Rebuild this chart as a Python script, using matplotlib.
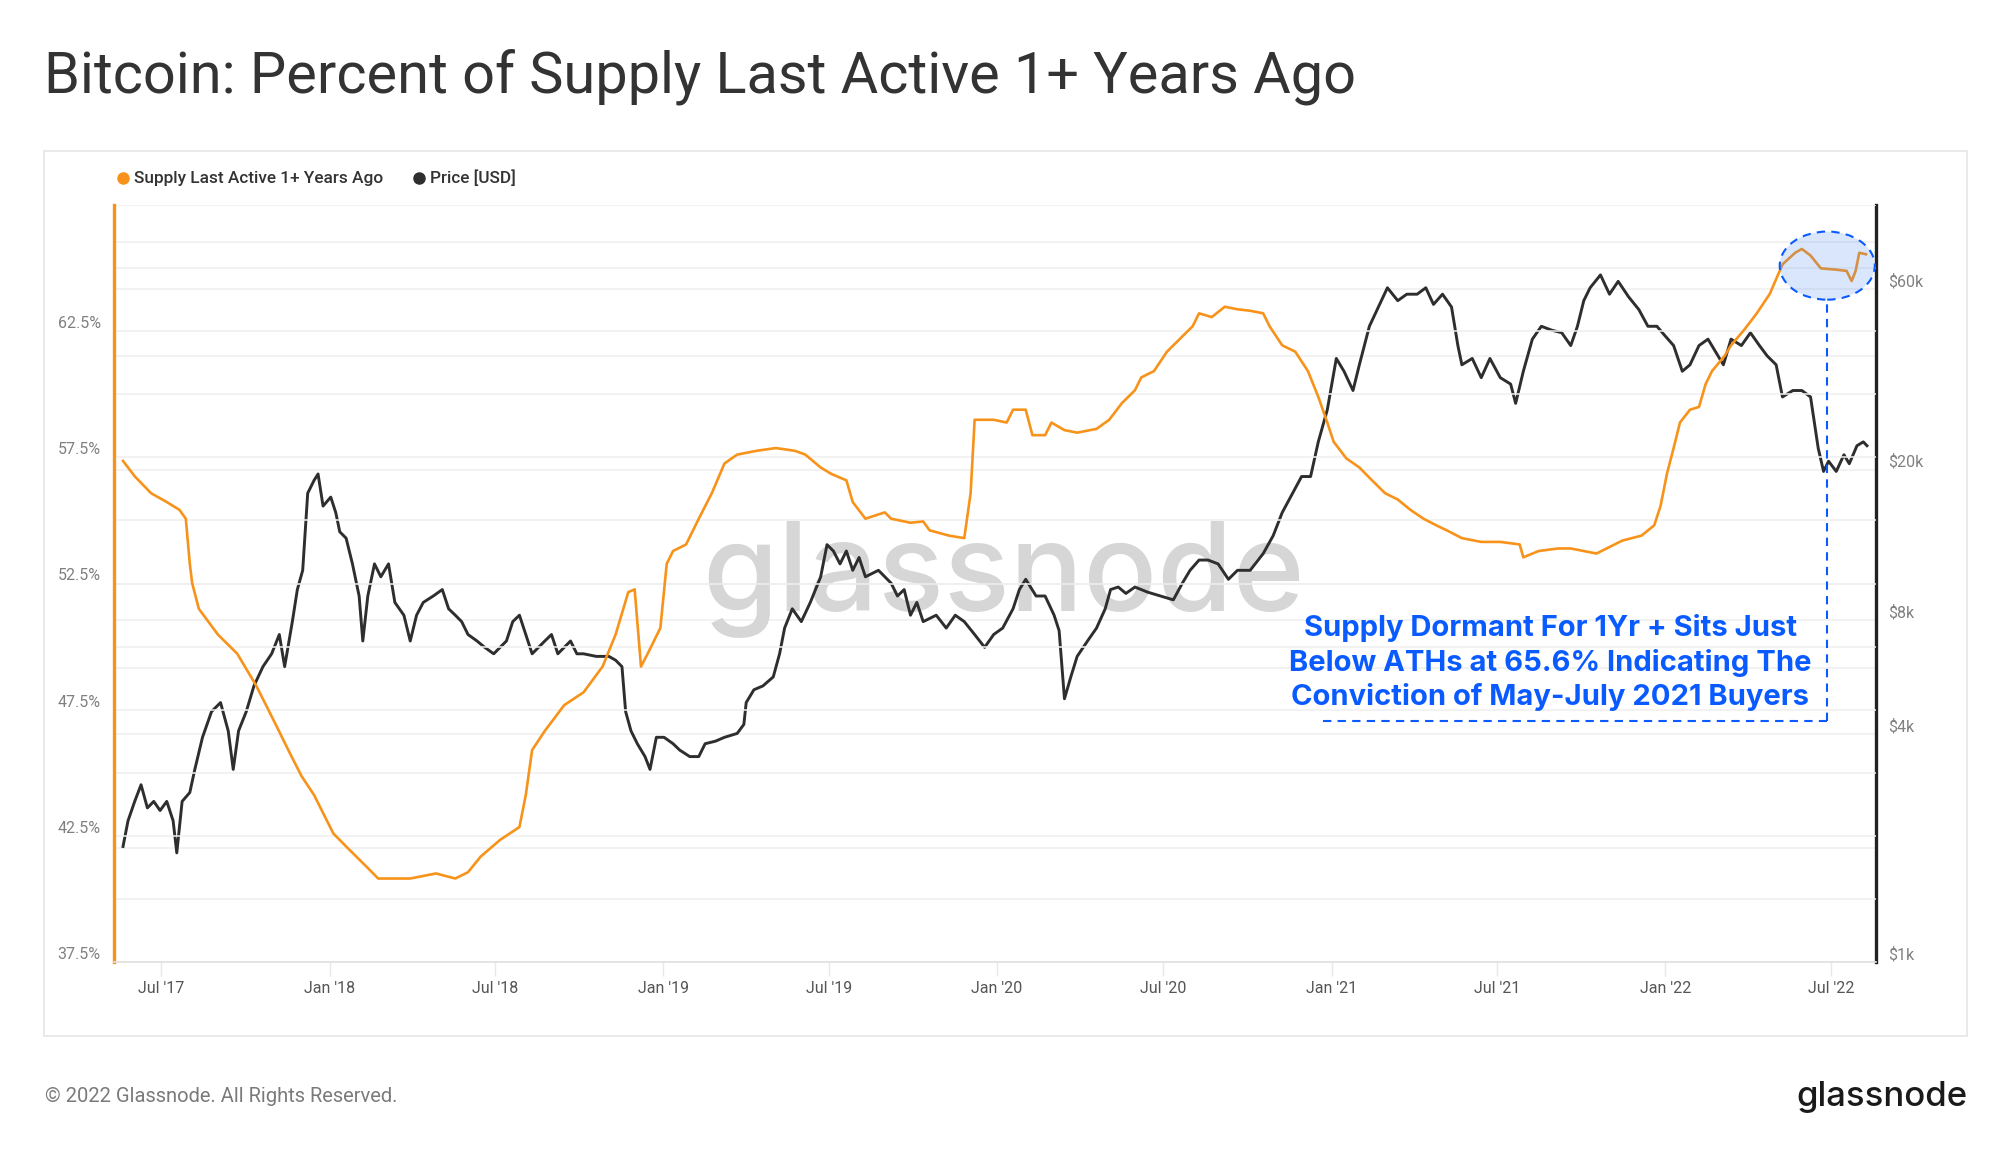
import numpy as np
import pandas as pd
import matplotlib
matplotlib.use("Agg")
import matplotlib.pyplot as plt
import matplotlib.dates as mdates
import matplotlib.transforms as mtransforms
from matplotlib.patches import Ellipse, Rectangle
from matplotlib.lines import Line2D
from matplotlib.ticker import FixedLocator, NullFormatter

plt.rcParams['font.family'] = ['Roboto', 'DejaVu Sans']

# ---- data (x in decimal years) ----
supply_years = [2017.381, 2017.416, 2017.465, 2017.512, 2017.550, 2017.569, 2017.581, 2017.588,
                2017.608, 2017.665, 2017.723, 2017.780, 2017.838, 2017.876, 2017.915, 2017.953,
                2018.011, 2018.068, 2018.107, 2018.145, 2018.241, 2018.318, 2018.376, 2018.414,
                2018.452, 2018.510, 2018.568, 2018.587, 2018.606, 2018.644, 2018.702, 2018.760,
                2018.817, 2018.856, 2018.894, 2018.913, 2018.932, 2018.952, 2018.990, 2019.009,
                2019.028, 2019.067, 2019.105, 2019.144, 2019.182, 2019.220, 2019.278, 2019.336,
                2019.393, 2019.424, 2019.470, 2019.501, 2019.547, 2019.566, 2019.604, 2019.662,
                2019.681, 2019.739, 2019.777, 2019.796, 2019.854, 2019.900, 2019.919, 2019.931,
                2019.988, 2020.027, 2020.046, 2020.084, 2020.104, 2020.142, 2020.161, 2020.200,
                2020.238, 2020.296, 2020.334, 2020.372, 2020.411, 2020.430, 2020.468, 2020.507,
                2020.545, 2020.584, 2020.603, 2020.641, 2020.680, 2020.718, 2020.756, 2020.795,
                2020.814, 2020.852, 2020.891, 2020.929, 2020.960, 2020.987, 2021.006, 2021.044,
                2021.083, 2021.121, 2021.160, 2021.198, 2021.236, 2021.275, 2021.313, 2021.352,
                2021.390, 2021.448, 2021.505, 2021.563, 2021.574, 2021.620, 2021.678, 2021.716,
                2021.755, 2021.793, 2021.832, 2021.870, 2021.928, 2021.966, 2021.985, 2022.004,
                2022.024, 2022.043, 2022.073, 2022.100, 2022.120, 2022.139, 2022.177, 2022.196,
                2022.235, 2022.273, 2022.312, 2022.350, 2022.388, 2022.408, 2022.434, 2022.465,
                2022.511, 2022.542, 2022.557, 2022.569, 2022.580, 2022.600]
supply_pct = [57.36, 56.75, 56.08, 55.73, 55.42, 55.07, 53.28, 52.52,
              51.50, 50.48, 49.72, 48.45, 46.92, 45.90, 44.88, 44.12,
              42.59, 41.83, 41.32, 40.81, 40.81, 41.01, 40.81, 41.06,
              41.68, 42.34, 42.85, 44.12, 45.90, 46.66, 47.68, 48.19,
              49.21, 50.48, 52.16, 52.27, 49.21, 49.72, 50.74, 53.28,
              53.79, 54.05, 55.07, 56.08, 57.26, 57.61, 57.76, 57.87,
              57.76, 57.61, 57.10, 56.85, 56.59, 55.73, 55.07, 55.32,
              55.07, 54.91, 54.96, 54.61, 54.40, 54.30, 56.08, 58.99,
              58.99, 58.88, 59.39, 59.39, 58.38, 58.38, 58.88, 58.58,
              58.48, 58.63, 58.99, 59.65, 60.16, 60.67, 60.92, 61.69,
              62.19, 62.70, 63.21, 63.06, 63.47, 63.37, 63.31, 63.21,
              62.70, 61.94, 61.69, 60.92, 59.90, 58.88, 58.12, 57.46,
              57.10, 56.59, 56.08, 55.83, 55.42, 55.07, 54.81, 54.56,
              54.30, 54.15, 54.15, 54.05, 53.54, 53.79, 53.89, 53.89,
              53.79, 53.69, 53.95, 54.20, 54.40, 54.81, 55.58, 56.85,
              57.87, 58.88, 59.39, 59.50, 60.41, 60.92, 61.53, 61.94,
              62.55, 63.21, 63.98, 65.15, 65.61, 65.76, 65.50, 64.99,
              64.94, 64.89, 64.49, 64.89, 65.61, 65.55]

price_years = [2017.381, 2017.396, 2017.416, 2017.435, 2017.454, 2017.473, 2017.492, 2017.512,
               2017.531, 2017.542, 2017.558, 2017.581, 2017.596, 2017.619, 2017.646, 2017.673,
               2017.696, 2017.711, 2017.727, 2017.750, 2017.773, 2017.800, 2017.826, 2017.849,
               2017.865, 2017.888, 2017.903, 2017.919, 2017.934, 2017.953, 2017.965, 2017.980,
               2018.003, 2018.018, 2018.030, 2018.049, 2018.068, 2018.088, 2018.099, 2018.114,
               2018.134, 2018.153, 2018.176, 2018.195, 2018.222, 2018.241, 2018.260, 2018.280,
               2018.310, 2018.337, 2018.356, 2018.376, 2018.395, 2018.414, 2018.441, 2018.464,
               2018.491, 2018.510, 2018.529, 2018.548, 2018.568, 2018.587, 2018.606, 2018.625,
               2018.644, 2018.664, 2018.683, 2018.702, 2018.721, 2018.740, 2018.760, 2018.798,
               2018.836, 2018.856, 2018.875, 2018.886, 2018.902, 2018.921, 2018.944, 2018.959,
               2018.978, 2019.001, 2019.028, 2019.048, 2019.078, 2019.105, 2019.124, 2019.155,
               2019.182, 2019.220, 2019.240, 2019.247, 2019.270, 2019.297, 2019.328, 2019.347,
               2019.362, 2019.385, 2019.412, 2019.439, 2019.470, 2019.489, 2019.508, 2019.528,
               2019.547, 2019.566, 2019.585, 2019.604, 2019.643, 2019.681, 2019.700, 2019.720,
               2019.739, 2019.758, 2019.777, 2019.816, 2019.846, 2019.873, 2019.900, 2019.931,
               2019.961, 2019.988, 2020.015, 2020.046, 2020.065, 2020.084, 2020.115, 2020.142,
               2020.169, 2020.184, 2020.200, 2020.219, 2020.238, 2020.269, 2020.296, 2020.322,
               2020.338, 2020.361, 2020.384, 2020.411, 2020.449, 2020.488, 2020.526, 2020.553,
               2020.576, 2020.603, 2020.630, 2020.660, 2020.691, 2020.718, 2020.756, 2020.795,
               2020.825, 2020.852, 2020.883, 2020.910, 2020.937, 2020.960, 2020.987, 2021.014,
               2021.037, 2021.064, 2021.083, 2021.113, 2021.140, 2021.167, 2021.198, 2021.225,
               2021.256, 2021.282, 2021.305, 2021.332, 2021.359, 2021.378, 2021.390, 2021.421,
               2021.448, 2021.474, 2021.505, 2021.536, 2021.551, 2021.574, 2021.601, 2021.628,
               2021.659, 2021.689, 2021.716, 2021.736, 2021.755, 2021.774, 2021.805, 2021.832,
               2021.858, 2021.889, 2021.920, 2021.947, 2021.974, 2021.997, 2022.024, 2022.050,
               2022.073, 2022.100, 2022.127, 2022.150, 2022.173, 2022.196, 2022.227, 2022.254,
               2022.281, 2022.304, 2022.331, 2022.350, 2022.381, 2022.408, 2022.434, 2022.457,
               2022.473, 2022.488, 2022.511, 2022.534, 2022.550, 2022.573, 2022.592, 2022.603]
price_usd = [2020, 2362, 2657, 2940, 2554, 2657, 2514, 2657,
             2362, 1943, 2657, 2805, 3228, 3924, 4588, 4847,
             4081, 3228, 4081, 4588, 5364, 6032, 6522, 7334,
             6032, 7932, 9640, 10838, 17322, 18731, 19475, 16020,
             16920, 15402, 13700, 13180, 11270, 9270, 7050, 9270,
             11270, 10420, 11270, 8915, 8248, 7050, 8248, 8915,
             9270, 9640, 8576, 8248, 7932, 7334, 7050, 6783,
             6522, 6783, 7050, 7932, 8248, 7334, 6522, 6783,
             7050, 7334, 6522, 6783, 7050, 6522, 6522, 6420,
             6420, 6272, 6032, 4588, 4081, 3774, 3490, 3228,
             3924, 3924, 3774, 3630, 3490, 3490, 3774, 3833,
             3924, 4018, 4244, 4847, 5240, 5364, 5666, 6522,
             7627, 8576, 7932, 8915, 10420, 12670, 12190, 11270,
             12190, 10838, 11720, 10420, 10838, 10023, 9270, 9640,
             8248, 8915, 7932, 8248, 7627, 8248, 7932, 7334,
             6783, 7334, 7627, 8576, 9640, 10261, 9270, 9270,
             8248, 7507, 4961, 5666, 6420, 7050, 7627, 8576,
             9640, 9790, 9417, 9790, 9490, 9270, 9056, 10023,
             10838, 11537, 11537, 11270, 10261, 10838, 10838, 11998,
             13385, 15402, 17322, 19176, 19176, 23676, 28782, 39330,
             36380, 32360, 37840, 47830, 53780, 60460, 55900, 58140,
             58140, 60460, 54640, 58140, 53780, 42540, 37840, 39330,
             34990, 39330, 34990, 33650, 29930, 36380, 44230, 47830,
             46710, 45990, 42540, 47830, 55900, 60460, 65380, 58140,
             62870, 57230, 52940, 47830, 47830, 45280, 42540, 36380,
             37840, 42540, 44230, 40910, 37840, 44230, 42540, 45990,
             42540, 39960, 37840, 31120, 32360, 32360, 31120, 22770,
             19780, 21050, 19780, 21890, 20730, 23130, 23676, 23130]

left_ticks = [37.5, 42.5, 47.5, 52.5, 57.5, 62.5]
left_minor = [40, 45, 50, 55, 60, 65, 67.5]
right_ticks = [1000, 4000, 8000, 20000, 60000]
right_labels = ['$1k', '$4k', '$8k', '$20k', '$60k']
right_minor = [2000, 6000, 10000, 40000, 80000]
x_ticks = ['2017-07-01', '2018-01-01', '2018-07-01', '2019-01-01', '2019-07-01', '2020-01-01',
           '2020-07-01', '2021-01-01', '2021-07-01', '2022-01-01', '2022-07-01']

note_text = ("Supply Dormant For 1Yr + Sits Just\n"
             "Below ATHs at 65.6% Indicating The\n"
             "Conviction of May-July 2021 Buyers")


def to_dates(yrs):
    return pd.Timestamp('2017-01-01') + pd.to_timedelta((np.asarray(yrs) - 2017) * 365.25, unit='D')


ORANGE = '#f7931a'
DARK = '#2e2e2e'
BLUE = '#0a5bff'

fig = plt.figure(figsize=(20, 11.52), dpi=100)
fig.text(0.022, 0.933, 'Bitcoin: Percent of Supply Last Active 1+ Years Ago',
         fontsize=41.5, color='#333333', va='center', ha='left')

# panel frame
fig.patches.append(Rectangle((0.022, 1 - 1036 / 1152), 0.9615, 885 / 1152, transform=fig.transFigure,
                             fill=False, edgecolor='#e6e6e6', lw=1.2))

ax = fig.add_axes([0.057, 0.1649, 0.881, 0.6571])
ax2 = ax.twinx()
ax.set_zorder(ax2.get_zorder() + 1)
ax.patch.set_visible(False)

ax2.plot(to_dates(price_years), price_usd, color=DARK, lw=2.1, zorder=3)
ax.plot(to_dates(supply_years), supply_pct, color=ORANGE, lw=1.9, zorder=3)

ax.set_xlim(to_dates([2017.354, 2022.630]))
ax.set_ylim(37.5, 67.5)
ax2.set_yscale('log')
ax2.set_ylim(1000, 100000)

# grid
ax.yaxis.set_major_locator(FixedLocator(left_ticks))
ax.yaxis.set_minor_locator(FixedLocator(left_minor))
ax2.yaxis.set_major_locator(FixedLocator(right_ticks))
ax2.yaxis.set_minor_locator(FixedLocator(right_minor))
ax2.yaxis.set_minor_formatter(NullFormatter())
for a in (ax, ax2):
    a.grid(axis='y', which='both', color='#efefef', lw=1.1, zorder=0)
    a.tick_params(axis='y', which='both', length=0, labelleft=False, labelright=False)
    a.set_axisbelow(True)

# y tick labels sit just above their grid lines
lab_off = mtransforms.ScaledTranslation(0, 5.5 / 72, fig.dpi_scale_trans)
for v in left_ticks:
    ax.text(-0.0075, v, f'{v}%', transform=ax.get_yaxis_transform() + lab_off,
            ha='right', va='center', fontsize=11.5, color='#808080')
for v, s in zip(right_ticks, right_labels):
    ax2.text(1.0068, v, s, transform=ax2.get_yaxis_transform() + lab_off,
             ha='left', va='center', fontsize=11.5, color='#808080')

# x axis
xt = pd.to_datetime(x_ticks)
ax.set_xticks(xt)
ax.set_xticklabels([d.strftime("%b '%y") for d in xt])
ax.tick_params(axis='x', length=10, width=1, color='#e8e8e8', labelsize=11.5,
               labelcolor='#555555', pad=4)

# spines
for s in ('top', 'right'):
    ax.spines[s].set_visible(False)
for s in ('top', 'left', 'bottom'):
    ax2.spines[s].set_visible(False)
ax.spines['left'].set_color(ORANGE)
ax.spines['left'].set_linewidth(2.4)
ax.spines['bottom'].set_color('#e0e0e0')
ax.spines['bottom'].set_linewidth(1.2)
ax2.spines['right'].set_color('#222222')
ax2.spines['right'].set_linewidth(2.4)

# watermark
ax2.text(0.505, 0.505, 'glassnode', transform=ax2.transAxes, ha='center', va='center',
         fontsize=88, color='#d6d6d6', family=['Inter', 'DejaVu Sans'], fontweight='medium',
         zorder=1)

# legend
fig.add_artist(Line2D([123 / 2000], [1 - 178 / 1152], marker='o', ms=8, color=ORANGE,
                      ls='none', transform=fig.transFigure))
fig.text(134 / 2000, 1 - 178 / 1152, 'Supply Last Active 1+ Years Ago', fontsize=12.4,
         color='#333333', va='center', fontweight='medium')
fig.add_artist(Line2D([419 / 2000], [1 - 178 / 1152], marker='o', ms=8, color=DARK,
                      ls='none', transform=fig.transFigure))
fig.text(430 / 2000, 1 - 178 / 1152, 'Price [USD]', fontsize=12.4,
         color='#333333', va='center', fontweight='medium')

# annotation
c_x = mdates.date2num(to_dates([2022.484])[0])
c_y = 65.1
ell_w = 104
ell_h = 2.7
ax.add_patch(Ellipse((c_x, c_y), ell_w, ell_h, facecolor='#4a86f0', alpha=0.2,
                     edgecolor='none', zorder=4))
ax.add_patch(Ellipse((c_x, c_y), ell_w, ell_h, facecolor='none', edgecolor=BLUE,
                     lw=1.5, ls=(0, (4, 3)), zorder=5))
line_y = 47.07
x_left = mdates.date2num(to_dates([2020.975])[0])
ax.plot([x_left, c_x], [line_y, line_y], color=BLUE, lw=1.5, ls=(0, (4, 3)), zorder=5)
ax.plot([c_x, c_x], [line_y, c_y - ell_h / 2], color=BLUE, lw=1.5, ls=(0, (4, 3)), zorder=5)
ax.text(mdates.date2num(to_dates([2021.655])[0]), 49.36, note_text, ha='center', va='center',
        fontsize=21, fontweight='bold', color=BLUE, linespacing=1.3,
        family=['Inter', 'DejaVu Sans'], zorder=6)

# footer
fig.text(0.0225, 1 - 1097 / 1152, '\u00a9 2022 Glassnode. All Rights Reserved.', fontsize=14.5,
         color='#7a7a7a', va='center')
fig.text(0.9835, 1 - 1097 / 1152, 'glassnode', fontsize=25, color='#1a1a1a', va='center',
         ha='right', family=['Inter', 'DejaVu Sans'], fontweight='medium')

fig.savefig('out.png', dpi=100)
